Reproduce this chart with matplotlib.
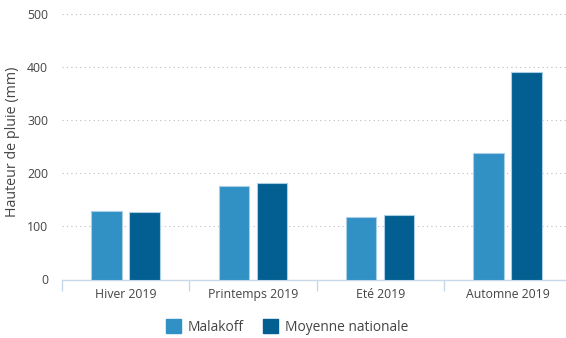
import matplotlib.pyplot as plt
import numpy as np
from matplotlib.patches import Patch

saisons = ["Hiver 2019", "Printemps 2019", "Eté 2019", "Automne 2019"]
malakoff = [129, 176, 117, 238]
nationale = [128, 181, 122, 390]
yticks = [0, 100, 200, 300, 400, 500]

c_mal = "#3190c4"
c_nat = "#035e91"
grey = "#444444"

plt.rcParams['font.family'] = ['Open Sans', 'DejaVu Sans']

fig = plt.figure(figsize=(5.66, 3.38), dpi=100)
ax = fig.add_axes([62/566, 1 - 279.5/338, 509/566, 265.5/338])

x = np.arange(len(saisons))
w = 0.24
ax.bar(x - 0.15, malakoff, w, color=c_mal, edgecolor="#a9cfe6", linewidth=0.8, zorder=3)
ax.bar(x + 0.15, nationale, w, color=c_nat, edgecolor="#a9cfe6", linewidth=0.8, zorder=3)

ax.set_xlim(-0.5, len(saisons) - 0.5)
ax.set_ylim(0, 500)
ax.set_yticks(yticks)
ax.set_yticklabels([str(v) for v in yticks], fontsize=8.8, color=grey)
ax.tick_params(axis='y', length=0, pad=10)

ax.set_xticks(x)
ax.set_xticklabels(saisons, fontsize=8.8, color=grey)
ax.tick_params(axis='x', length=0, pad=6)
ax.set_xticks(np.arange(len(saisons) + 1) - 0.5, minor=True)
ax.tick_params(axis='x', which='minor', length=8, color="#c8d8e8", width=1)

ax.grid(axis='y', linestyle=(0, (1, 3)), color="#bbbbbb", linewidth=0.8, zorder=0)
for s in ['top', 'right', 'left']:
    ax.spines[s].set_visible(False)
ax.spines['bottom'].set_color("#c8d8e8")
ax.spines['bottom'].set_linewidth(1)

ax.set_ylabel("Hauteur de pluie (mm)", fontsize=10.3, color=grey)
ax.yaxis.set_label_coords(-0.083, 0.52)

handles = [Patch(color=c_mal, label="Malakoff"), Patch(color=c_nat, label="Moyenne nationale")]
fig.legend(handles=handles, loc='center', bbox_to_anchor=(287/566, 1 - 327/338), ncol=2,
           frameon=False, fontsize=9.9, handlelength=1.1, handleheight=1.1,
           handletextpad=0.5, columnspacing=1.4, labelcolor=grey)

fig.savefig("out.png", dpi=100)
